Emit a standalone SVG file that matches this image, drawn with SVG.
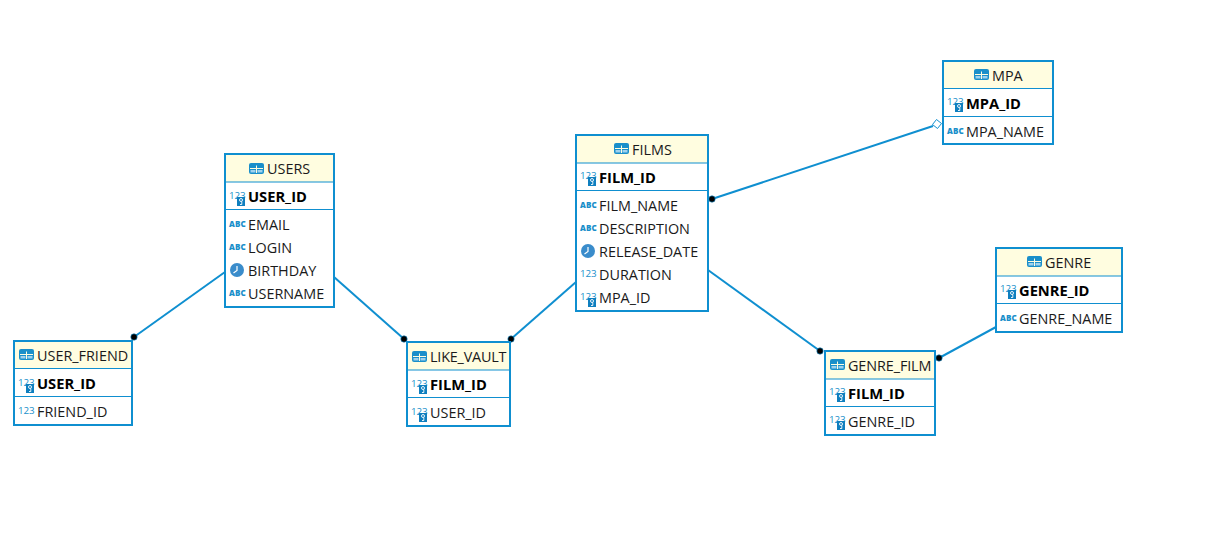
<svg xmlns="http://www.w3.org/2000/svg" width="1223" height="548" viewBox="0 0 1223 548">
<style>
text{font-family:"Open Sans","Noto Sans","Liberation Sans",sans-serif;font-size:14.4px;fill:#1a1a1a}
.box{fill:#fff;stroke:#0f8fd0;stroke-width:2}
.head{fill:#fffde0}
.div{stroke:#0f8fd0;stroke-width:1;fill:none}
.pk{font-weight:700;fill:#000;font-size:14.700px}
.ic{font-size:9.800px;fill:#1a8fca;letter-spacing:-.1px}
.abc{font-size:8px;font-weight:800;fill:#1a8fca;letter-spacing:.1px}
.con{stroke:#0f8fd0;stroke-width:2;fill:none}
.dot{fill:#000;stroke:#0f8fd0;stroke-width:.6}
.dia{fill:#fff;stroke:#0f8fd0;stroke-width:1}
.tb{fill:#1a8fca}
.tl{stroke:#fffde0;stroke-width:1}
.clock{fill:#3a8ccb}
.hand{stroke:#fff;stroke-width:1.2;fill:none}
.key{fill:#0f7fbf}
</style>
<defs>
<g id="tbl"><rect class="tb" x="0" y="0" width="15" height="11" rx="2"/><path class="tl" d="M1 5.500H14M7.500 2.500V10"/><path d="M1.500 7H6.500V9.500H1.500ZM8.500 7H13.500V9.500H8.500Z" fill="#9fd2ee"/></g>
<g id="key"><rect class="key" x="8" y="6" width="8" height="9"/><circle cx="12" cy="9" r="1.500" fill="none" stroke="#fff" stroke-width=".9"/><path d="M12.800 10.500V13.500H11" stroke="#fff" stroke-width=".9" fill="none"/></g>
<g id="clk"><circle class="clock" cx="8" cy="8" r="7"/><path class="hand" d="M8 4v4.500L4.500 11"/></g>
</defs>
<g id="connectors">
<path class="con" d="M134 337L225 272"/>
<path class="con" d="M334 277L404 339"/>
<path class="con" d="M511 339L576 282"/>
<path class="con" d="M712 199L933 126"/>
<path class="con" d="M708 270L820 351"/>
<path class="con" d="M939 358L996 327"/>
<circle class="dot" cx="134" cy="337" r="3.200"/>
<circle class="dot" cx="404" cy="339" r="3.200"/>
<circle class="dot" cx="511" cy="339" r="3.200"/>
<circle class="dot" cx="712" cy="199" r="3.200"/>
<circle class="dot" cx="820" cy="351" r="3.200"/>
<circle class="dot" cx="939" cy="358" r="3.200"/>
<path class="dia" d="M936.500 119.500L941.500 123.500L937.500 128.500L932.500 124.500Z"/>
</g>
<g id="USERS">
<rect class="box" x="225" y="154" width="109" height="153"/>
<rect class="head" x="226" y="155" width="107" height="27"/>
<path class="div" d="M226 182H333M226 209.500H333"/>
<use href="#tbl" x="249" y="163"/>
<text x="267" y="173.500">USERS</text>
<text class="ic" x="229" y="199">123</text><use href="#key" x="229" y="191"/>
<text class="pk" x="248" y="201.500">USER_ID</text>
<text class="abc" x="229" y="227">ABC</text><text x="248" y="229.500">EMAIL</text>
<text class="abc" x="229" y="250">ABC</text><text x="248" y="252.500">LOGIN</text>
<use href="#clk" x="229" y="262"/><text x="248" y="275.500">BIRTHDAY</text>
<text class="abc" x="229" y="296">ABC</text><text x="248" y="298.500">USERNAME</text>
</g>
<g id="USER_FRIEND">
<rect class="box" x="14" y="341" width="118" height="84"/>
<rect class="head" x="15" y="342" width="116" height="26"/>
<path class="div" d="M15 368.500H131M15 396.500H131"/>
<use href="#tbl" x="19" y="349"/>
<text x="37" y="360.500">USER_FRIEND</text>
<text class="ic" x="18" y="386">123</text><use href="#key" x="18" y="378"/>
<text class="pk" x="37" y="388.500">USER_ID</text>
<text class="ic" x="18" y="414">123</text>
<text x="37" y="416.500">FRIEND_ID</text>
</g>
<g id="LIKE_VAULT">
<rect class="box" x="407" y="342" width="103" height="84"/>
<rect class="head" x="408" y="343" width="101" height="27"/>
<path class="div" d="M408 370H509M408 397.500H509"/>
<use href="#tbl" x="412" y="351"/>
<text x="430" y="361.500" letter-spacing="-.2">LIKE_VAULT</text>
<text class="ic" x="411" y="387">123</text><use href="#key" x="411" y="379"/>
<text class="pk" x="430" y="389.500">FILM_ID</text>
<text class="ic" x="411" y="415">123</text><use href="#key" x="411" y="407"/>
<text x="430" y="417.500">USER_ID</text>
</g>
<g id="FILMS">
<rect class="box" x="576" y="135" width="132" height="176"/>
<rect class="head" x="577" y="136" width="130" height="27"/>
<path class="div" d="M577 163H707M577 190.500H707"/>
<use href="#tbl" x="614" y="143"/>
<text x="632" y="154.500">FILMS</text>
<text class="ic" x="580" y="179">123</text><use href="#key" x="580" y="171"/>
<text class="pk" x="599" y="182.500">FILM_ID</text>
<text class="abc" x="580" y="208">ABC</text><text x="599" y="210.500">FILM_NAME</text>
<text class="abc" x="580" y="231">ABC</text><text x="599" y="233.500">DESCRIPTION</text>
<use href="#clk" x="580" y="243"/><text x="599" y="256.500">RELEASE_DATE</text>
<text class="ic" x="580" y="277">123</text><text x="599" y="279.500">DURATION</text>
<text class="ic" x="580" y="300">123</text><use href="#key" x="580" y="292"/>
<text x="599" y="302.500">MPA_ID</text>
</g>
<g id="MPA">
<rect class="box" x="943" y="61" width="110" height="83"/>
<rect class="head" x="944" y="62" width="108" height="26"/>
<path class="div" d="M944 88.500H1052M944 116.500H1052"/>
<use href="#tbl" x="974" y="69"/>
<text x="992" y="80.500">MPA</text>
<text class="ic" x="947" y="105">123</text><use href="#key" x="947" y="97"/>
<text class="pk" x="966" y="108.500">MPA_ID</text>
<text class="abc" x="947" y="134">ABC</text><text x="966" y="136.500">MPA_NAME</text>
</g>
<g id="GENRE">
<rect class="box" x="996" y="248" width="126" height="84"/>
<rect class="head" x="997" y="249" width="124" height="27"/>
<path class="div" d="M997 276H1121M997 303.500H1121"/>
<use href="#tbl" x="1027" y="256"/>
<text x="1045" y="267.500">GENRE</text>
<text class="ic" x="1000" y="292">123</text><use href="#key" x="1000" y="284"/>
<text class="pk" x="1019" y="295.500">GENRE_ID</text>
<text class="abc" x="1000" y="321">ABC</text><text x="1019" y="323.500">GENRE_NAME</text>
</g>
<g id="GENRE_FILM">
<rect class="box" x="825" y="351" width="110" height="84"/>
<rect class="head" x="826" y="352" width="108" height="27"/>
<path class="div" d="M826 379H934M826 406.500H934"/>
<use href="#tbl" x="830" y="359"/>
<text x="848" y="370.500" letter-spacing="-.1">GENRE_FILM</text>
<text class="ic" x="829" y="395">123</text><use href="#key" x="829" y="387"/>
<text class="pk" x="848" y="398.500">FILM_ID</text>
<text class="ic" x="829" y="423">123</text><use href="#key" x="829" y="415"/>
<text x="848" y="426.500">GENRE_ID</text>
</g>
</svg>
